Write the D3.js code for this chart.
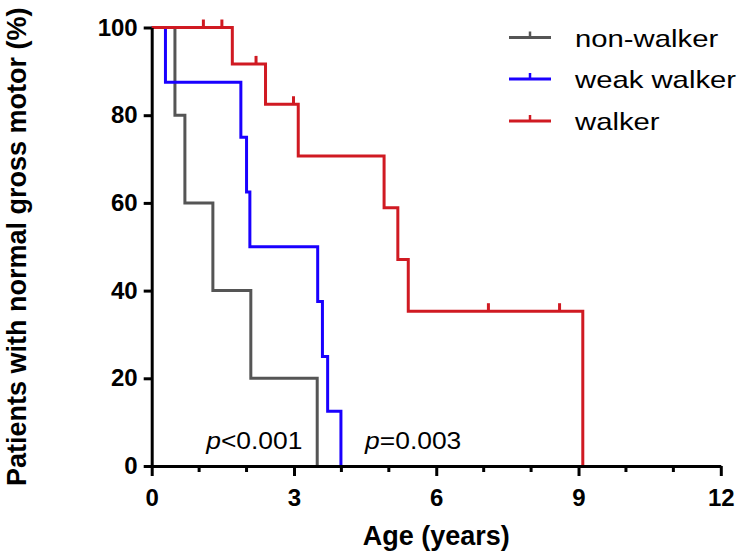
<!DOCTYPE html>
<html>
<head>
<meta charset="utf-8">
<script src="https://cdn.jsdelivr.net/npm/d3@7"></script>
<style>
  html, body { margin: 0; padding: 0; background: #fff; }
  svg { display: block; font-family: "Liberation Sans", Arial, sans-serif; }
</style>
</head>
<body>
<svg id="chart" width="743" height="557"></svg>
<script>
// ---- data ----
const seriesNames = ["non-walker", "weak walker", "walker"];
const seriesColors = ["#555555", "#1a00ff", "#d01a22"];

const nonWalkerTimes = [0, 0.49, 0.70, 1.29, 2.09, 3.49];
const nonWalkerSurv  = [100, 80, 60, 40, 20, 0];

const weakWalkerTimes = [0, 0.29, 1.88, 2.00, 2.07, 3.50, 3.60, 3.71, 3.99];
const weakWalkerSurv  = [100, 87.5, 75, 62.5, 50, 37.5, 25, 12.5, 0];

const walkerTimes = [0, 1.70, 2.40, 3.09, 4.90, 5.19, 5.41, 9.09];
const walkerSurv  = [100, 91.7, 82.5, 70.7, 58.9, 47.1, 35.3, 0];
const walkerCensorTimes = [1.09, 1.48, 2.20, 2.99, 7.10, 8.60];

const xMajorTicks = [0, 3, 6, 9, 12];
const xMinorTicks = [1, 2, 4, 5, 7, 8, 10, 11];
const yTicks = [0, 20, 40, 60, 80, 100];

const xTitle = "Age (years)";
const yTitle = "Patients with normal gross motor (%)";
const pLabels = ["<0.001", "=0.003"];
const pLabelX = [1.15, 4.5];

// ---- chart ----
const svg = d3.select("#chart");
const x = d3.scaleLinear().domain([0, 12]).range([151.7, 720.8]);
const y = d3.scaleLinear().domain([0, 100]).range([466, 27.5]);

const series = [
  { name: seriesNames[0], color: seriesColors[0], t: nonWalkerTimes, s: nonWalkerSurv, c: [] },
  { name: seriesNames[1], color: seriesColors[1], t: weakWalkerTimes, s: weakWalkerSurv, c: [] },
  { name: seriesNames[2], color: seriesColors[2], t: walkerTimes, s: walkerSurv, c: walkerCensorTimes }
];

function survAt(sr, tt) {
  let v = sr.s[0];
  for (let i = 0; i < sr.t.length; i++) if (sr.t[i] <= tt) v = sr.s[i];
  return v;
}

const line = d3.line().x(d => x(d[0])).y(d => y(d[1])).curve(d3.curveStepAfter);

series.forEach(sr => {
  const pts = sr.t.map((t, i) => [t, sr.s[i]]);
  svg.append("path")
    .attr("d", line(pts))
    .attr("fill", "none")
    .attr("stroke", sr.color)
    .attr("stroke-width", 3)
    .attr("stroke-linejoin", "miter")
    .attr("stroke-linecap", "butt");
  sr.c.forEach(ct => {
    const v = survAt(sr, ct);
    svg.append("line")
      .attr("x1", x(ct)).attr("x2", x(ct))
      .attr("y1", y(v)).attr("y2", y(v) - 8)
      .attr("stroke", sr.color).attr("stroke-width", 3);
  });
});

// axes
const axisG = svg.append("g");
const yAxis = d3.axisLeft(y).tickValues(yTicks).tickSize(8).tickSizeOuter(0).tickPadding(6);
const gy = axisG.append("g").attr("transform", `translate(${x(0)},0)`).call(yAxis);
gy.select(".domain").attr("stroke", "#000").attr("stroke-width", 3);
gy.selectAll(".tick line").attr("stroke", "#000").attr("stroke-width", 3);
gy.selectAll(".tick text").attr("font-size", 24).attr("font-weight", "bold").attr("fill", "#000")
  .attr("font-family", "Liberation Sans, Arial, sans-serif");

const xAxis = d3.axisBottom(x).tickValues(xMajorTicks).tickSize(10).tickSizeOuter(0).tickPadding(13);
const gx = axisG.append("g").attr("transform", `translate(0,${y(0)})`).call(xAxis);
gx.select(".domain").attr("stroke", "#000").attr("stroke-width", 3);
gx.selectAll(".tick line").attr("stroke", "#000").attr("stroke-width", 3);
gx.selectAll(".tick text").attr("font-size", 24).attr("font-weight", "bold").attr("fill", "#000")
  .attr("font-family", "Liberation Sans, Arial, sans-serif");
gx.selectAll(".minor").data(xMinorTicks).enter().append("line")
  .attr("class", "minor")
  .attr("x1", d => x(d)).attr("x2", d => x(d))
  .attr("y1", 0).attr("y2", 6)
  .attr("stroke", "#000").attr("stroke-width", 3);

// axis titles
svg.append("text")
  .attr("x", (x(0) + x(12)) / 2).attr("y", 545)
  .attr("text-anchor", "middle")
  .attr("font-size", 27).attr("font-weight", "bold")
  .text(xTitle);
svg.append("text")
  .attr("transform", `translate(26,${(y(0) + y(100)) / 2}) rotate(-90)`)
  .attr("text-anchor", "middle")
  .attr("font-size", 27).attr("font-weight", "bold")
  .text(yTitle);

// p-values
pLabels.forEach((pl, i) => {
  const t = svg.append("text")
    .attr("transform", `translate(${x(pLabelX[i])},449) scale(1.1,1)`)
    .attr("font-size", 24);
  t.append("tspan").attr("font-style", "italic").text("p");
  t.append("tspan").text(pl);
});

// legend
const legendY = [37.5, 79, 121];
series.forEach((sr, i) => {
  const ly = legendY[i];
  svg.append("line")
    .attr("x1", 509).attr("x2", 551).attr("y1", ly).attr("y2", ly)
    .attr("stroke", sr.color).attr("stroke-width", 3);
  svg.append("line")
    .attr("x1", 530).attr("x2", 530).attr("y1", ly).attr("y2", ly - 6)
    .attr("stroke", sr.color).attr("stroke-width", 2.5);
  svg.append("text")
    .attr("transform", `translate(575,${ly + 9}) scale(1.22,1)`)
    .attr("font-size", 24)
    .text(sr.name);
});
</script>
</body>
</html>
